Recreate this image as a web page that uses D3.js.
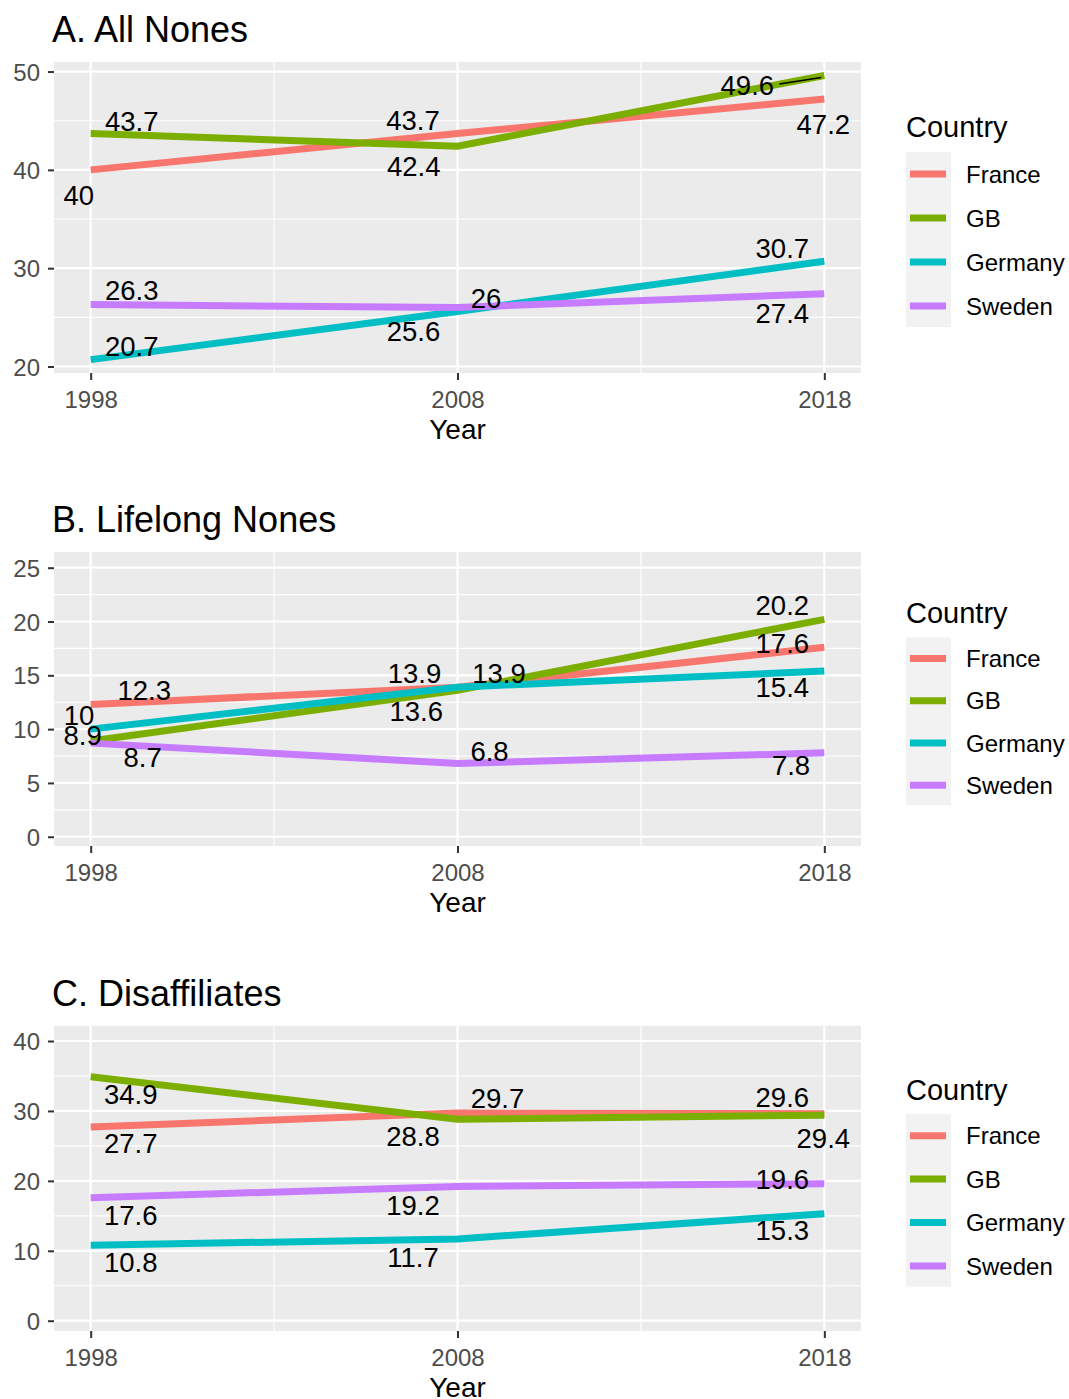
<!DOCTYPE html>
<html>
<head>
<meta charset="utf-8">
<script src="https://cdn.jsdelivr.net/npm/d3@7"></script>
<style>
  html, body { margin: 0; padding: 0; background: #fff; }
  svg { display: block; font-family: "Liberation Sans", Arial, Helvetica, sans-serif; }
</style>
</head>
<body>
<svg id="chart" width="1069" height="1399"></svg>
<script>
// ---- data -------------------------------------------------------------
const years = [1998, 2008, 2018];
const countries = ["France", "GB", "Germany", "Sweden"];
const panelTitles = ["A. All Nones", "B. Lifelong Nones", "C. Disaffiliates"];

// values per country (same order as `countries`), one entry per year
const allNones      = [[40, 43.7, 47.2], [43.7, 42.4, 49.6], [20.7, 25.6, 30.7], [26.3, 26, 27.4]];
const lifelongNones = [[12.3, 13.9, 17.6], [8.9, 13.6, 20.2], [10, 13.9, 15.4], [8.7, 6.8, 7.8]];
const disaffiliates = [[27.7, 29.7, 29.6], [34.9, 28.8, 29.4], [10.8, 11.7, 15.3], [17.6, 19.2, 19.6]];

const yTicksA = [20, 30, 40, 50];
const yTicksB = [0, 5, 10, 15, 20, 25];
const yTicksC = [0, 10, 20, 30, 40];
const xTicks = [1998, 2008, 2018];

// ---- styling / layout ----------------------------------------------------
const palette = ["#F8766D", "#7CAE00", "#00BFC4", "#C77CFF"];
const color = d3.scaleOrdinal().domain(countries).range(palette);

// label nudges [dx, dy] relative to each point (repelled text placement)
const nudgeA = [
  [[-12, 35], [-44.5, -3.5], [-1, 35]],
  [[41, -2.5], [-43.7, 30], [-77, 19.6]],
  [[41, -3.6], [-44, 29.3], [-42, -3]],
  [[41, -4.5], [28.5, 0], [-42, 29.6]]
];
const nudgeB = [
  [[53.6, -4.3], [-43, -4.4], [-42, 6]],
  [[-8, 4], [-41.3, 30.3], [-42, -4.4]],
  [[-11.7, -4], [41.5, -4.4], [-42, 25.7]],
  [[52, 23.6], [32, -2.8], [-33.3, 22]]
];
const nudgeC = [
  [[40, 26.3], [40, -4.7], [-42, -6.4]],
  [[40, 27.3], [-44.5, 26.7], [-1, 33.2]],
  [[40, 26.5], [-44.5, 27.8], [-42, 26.3]],
  [[40, 27.4], [-44.5, 28.6], [-42, 5.7]]
];

const panels = [
  { title: panelTitles[0], values: allNones, ticks: yTicksA, minor: 5,
    top: 62, bottom: 373, yLim: [19.34, 50.97], nudge: nudgeA,
    legendTitleY: 137, keyTop: 152, keyStep: 44, repel: [1, 2] },
  { title: panelTitles[1], values: lifelongNones, ticks: yTicksB, minor: 2.5,
    top: 552, bottom: 846, yLim: [-0.86, 26.46], nudge: nudgeB,
    legendTitleY: 623, keyTop: 637.5, keyStep: 42.2, repel: null },
  { title: panelTitles[2], values: disaffiliates, ticks: yTicksC, minor: 5,
    top: 1025.7, bottom: 1331, yLim: [-1.47, 42.19], nudge: nudgeC,
    legendTitleY: 1100, keyTop: 1114, keyStep: 43.4, repel: null }
];

const left = 54, right = 861;
const svg = d3.select("#chart");

const x = d3.scaleLinear().domain([1997, 2019]).range([left, right]);

panels.forEach(p => {
  const y = d3.scaleLinear().domain(p.yLim).range([p.bottom, p.top]);
  const g = svg.append("g");

  // panel background
  g.append("rect")
    .attr("x", left).attr("y", p.top)
    .attr("width", right - left).attr("height", p.bottom - p.top)
    .attr("fill", "#EBEBEB");

  // minor grid
  const yMinor = d3.range(p.ticks[0] - p.minor, p.ticks[p.ticks.length - 1] + p.minor * 1.01, p.minor * 2)
    .filter(v => v > p.yLim[0] && v < p.yLim[1]);
  g.selectAll(".ymin").data(yMinor).join("line")
    .attr("x1", left).attr("x2", right)
    .attr("y1", d => y(d)).attr("y2", d => y(d))
    .attr("stroke", "#fff").attr("stroke-width", 1.1);
  g.selectAll(".xmin").data([2003, 2013]).join("line")
    .attr("y1", p.top).attr("y2", p.bottom)
    .attr("x1", d => x(d)).attr("x2", d => x(d))
    .attr("stroke", "#fff").attr("stroke-width", 1.1);

  // major grid
  g.selectAll(".ymaj").data(p.ticks).join("line")
    .attr("x1", left).attr("x2", right)
    .attr("y1", d => y(d)).attr("y2", d => y(d))
    .attr("stroke", "#fff").attr("stroke-width", 2.2);
  g.selectAll(".xmaj").data(xTicks).join("line")
    .attr("y1", p.top).attr("y2", p.bottom)
    .attr("x1", d => x(d)).attr("x2", d => x(d))
    .attr("stroke", "#fff").attr("stroke-width", 2.2);

  // axes
  const yAxis = d3.axisLeft(y).tickValues(p.ticks).tickSize(6).tickPadding(8).tickFormat(d3.format("d"));
  const ya = g.append("g").attr("transform", `translate(${left},0)`).call(yAxis);
  const xAxis = d3.axisBottom(x).tickValues(xTicks).tickSize(7).tickPadding(11).tickFormat(d3.format("d"));
  const xa = g.append("g").attr("transform", `translate(0,${p.bottom})`).call(xAxis);
  [ya, xa].forEach(a => {
    a.select(".domain").remove();
    a.selectAll(".tick line").attr("stroke", "#333").attr("stroke-width", 2);
    a.selectAll(".tick text").attr("fill", "#4D4D4D").attr("font-size", 24)
      .attr("font-family", "Liberation Sans, Arial, sans-serif");
  });
  ya.selectAll(".tick text").attr("dy", "0.36em");

  // axis title
  g.append("text").attr("x", (left + right) / 2).attr("y", p.bottom + 66)
    .attr("text-anchor", "middle").attr("font-size", 28).attr("fill", "#000")
    .text("Year");

  // panel title
  g.append("text").attr("x", 52).attr("y", p.top - 20)
    .attr("font-size", 36).attr("fill", "#000").text(p.title);

  // series lines
  const line = d3.line().x(d => x(d[0])).y(d => y(d[1]));
  countries.forEach((c, i) => {
    const pts = years.map((yr, j) => [yr, p.values[i][j]]);
    g.append("path").datum(pts)
      .attr("d", line).attr("fill", "none")
      .attr("stroke", color(c)).attr("stroke-width", 7);
  });

  // value labels
  countries.forEach((c, i) => {
    years.forEach((yr, j) => {
      const v = p.values[i][j];
      const [dx, dy] = p.nudge[i][j];
      const px = x(yr), py = y(v);
      if (p.repel && p.repel[0] === i && p.repel[1] === j) {
        g.append("line")
          .attr("x1", px + dx + 32).attr("y1", py + dy - 11)
          .attr("x2", px - 3).attr("y2", py + 2)
          .attr("stroke", "#000").attr("stroke-width", 1.6);
      }
      g.append("text").attr("x", px + dx).attr("y", py + dy)
        .attr("text-anchor", "middle").attr("font-size", 27.5).attr("fill", "#000")
        .text(d3.format("")(v));
    });
  });

  // legend
  const lg = g.append("g");
  lg.append("text").attr("x", 906).attr("y", p.legendTitleY)
    .attr("font-size", 29).attr("fill", "#000").text("Country");
  lg.append("rect").attr("x", 906).attr("y", p.keyTop)
    .attr("width", 45).attr("height", p.keyStep * countries.length - 1)
    .attr("fill", "#F2F2F2");
  countries.forEach((c, i) => {
    const cy = p.keyTop + p.keyStep * (i + 0.5);
    lg.append("line").attr("x1", 910).attr("x2", 946)
      .attr("y1", cy).attr("y2", cy)
      .attr("stroke", color(c)).attr("stroke-width", 7);
    lg.append("text").attr("x", 966).attr("y", cy).attr("dy", "0.36em")
      .attr("font-size", 24).attr("fill", "#000").text(c);
  });
});
</script>
</body>
</html>
